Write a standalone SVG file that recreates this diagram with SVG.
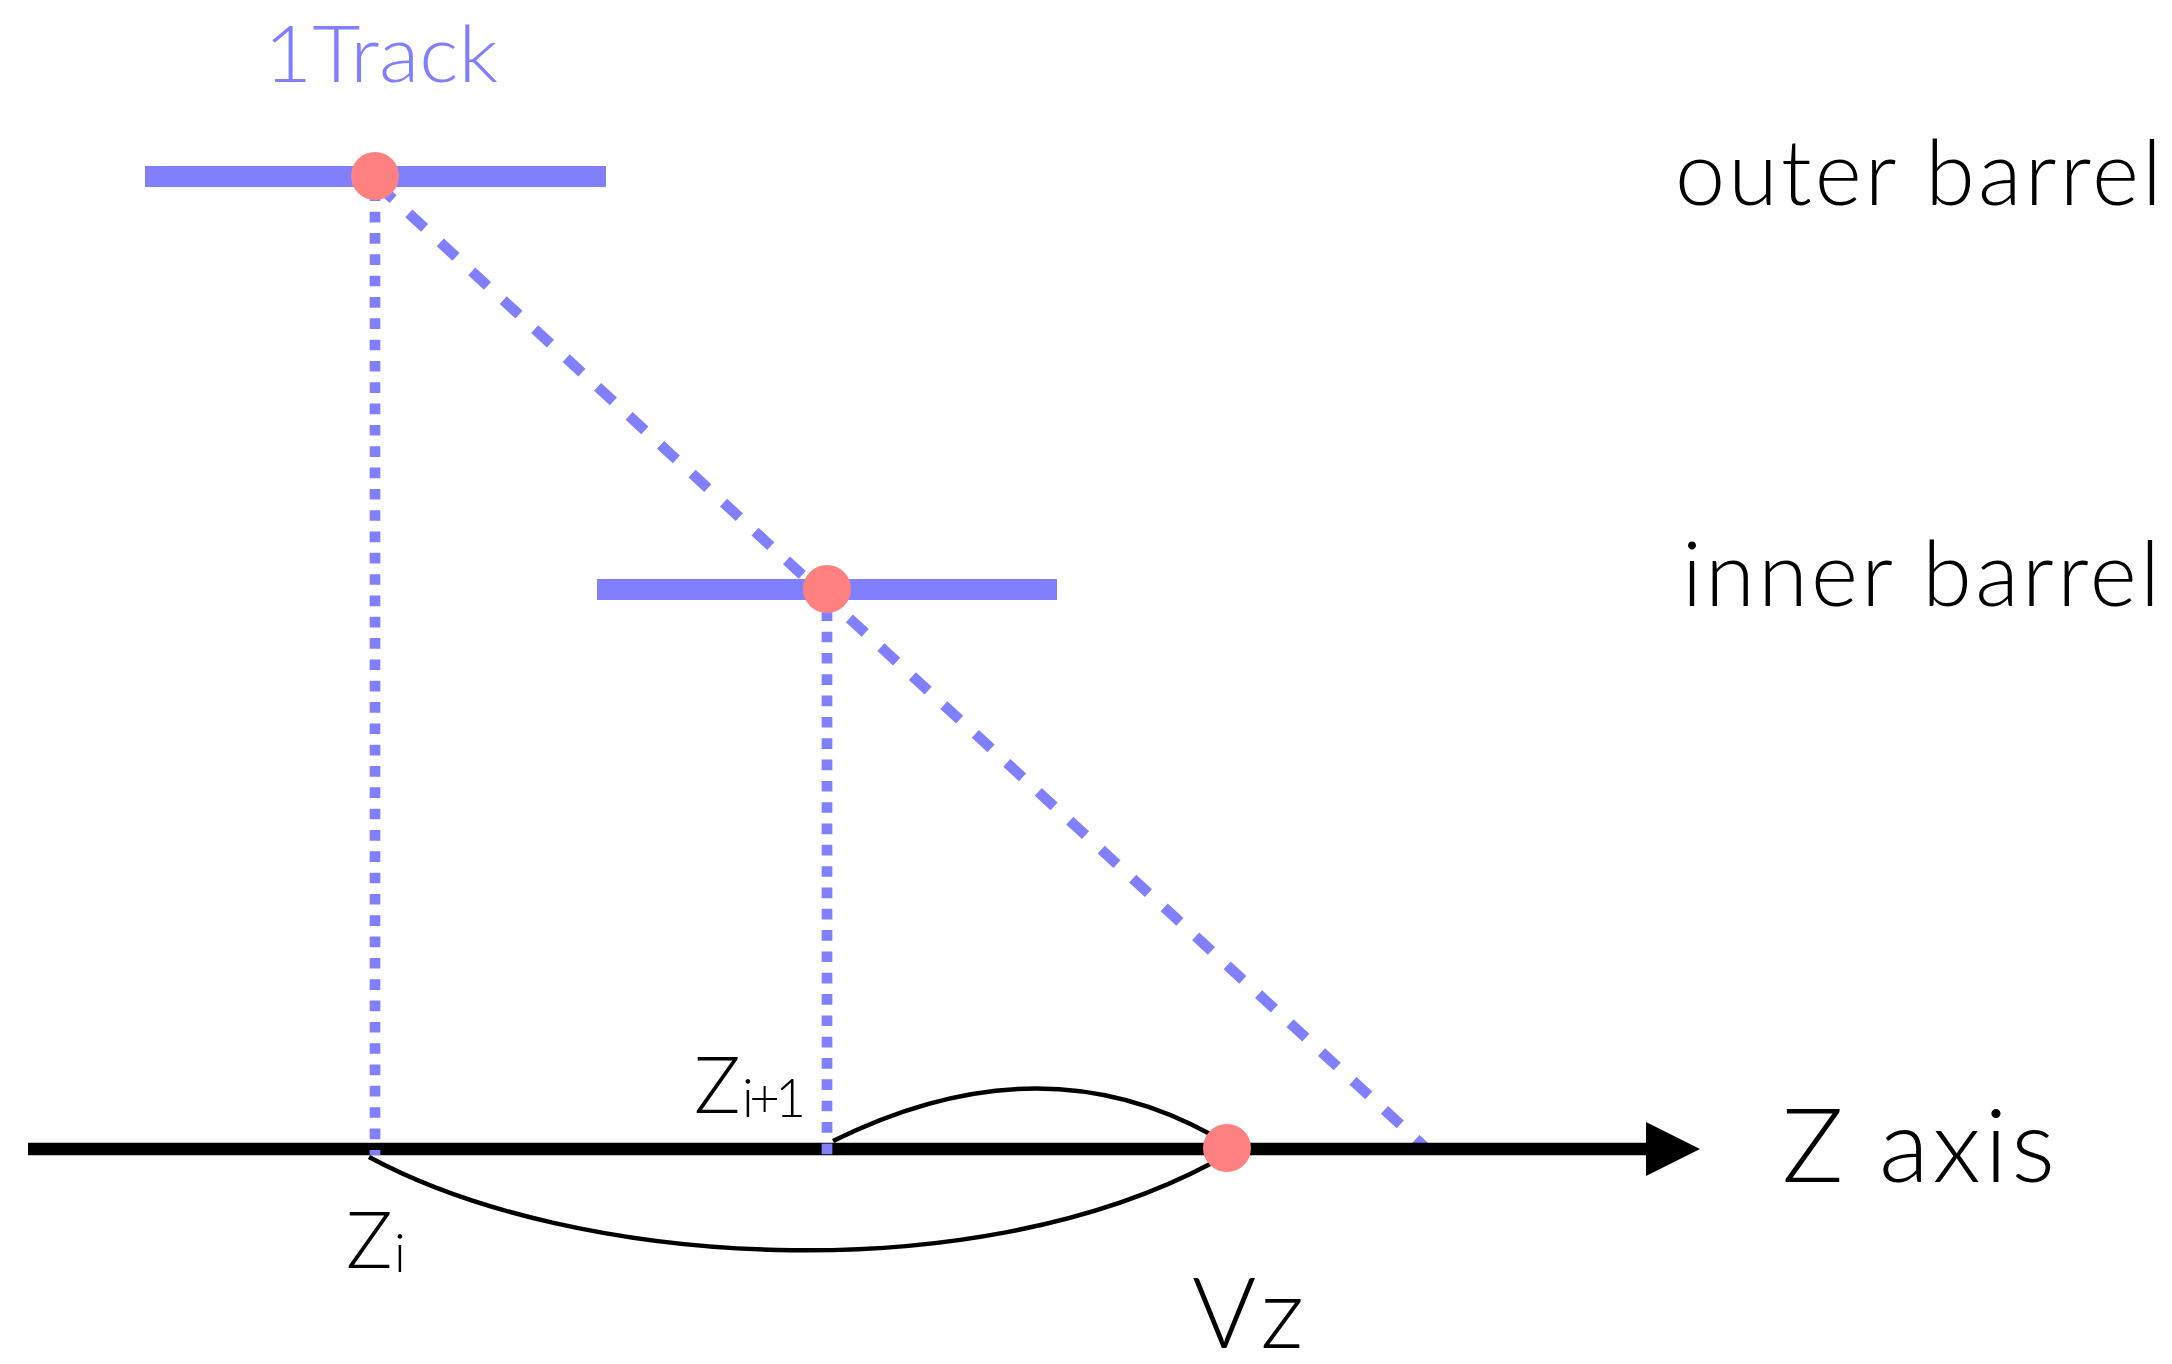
<svg xmlns="http://www.w3.org/2000/svg" width="2172" height="1364" viewBox="0 0 2172 1364">
<defs>
<style>
.lbl{font-family:Lato,"Noto Sans","Liberation Sans",sans-serif;font-weight:300;fill:#000}
.blue{fill:#8080ff}
.bar{fill:#8080ff}
.dot{fill:#ff8080}
.dotted{stroke:#8080ff;stroke-width:10.7;stroke-dasharray:10.66 10.66;fill:none}
.dashed{stroke:#8080ff;stroke-width:10.5;stroke-dasharray:21.4 21.34;fill:none}
.arc{stroke:#000;stroke-width:4.5;fill:none}
</style>
<marker id="ah" markerUnits="userSpaceOnUse" markerWidth="60" markerHeight="60" refX="0" refY="27" orient="auto" viewBox="0 0 60 60">
<path d="M0,0 L54,27 L0,54 Z" fill="#000"/>
</marker>
</defs>
<rect width="2172" height="1364" fill="#fff"/>

<g id="labels">
<text class="lbl blue" x="264" y="82" font-size="78" textLength="234" lengthAdjust="spacingAndGlyphs">1Track</text>
<text class="lbl" x="1675" y="205" font-size="90" textLength="487" lengthAdjust="spacing">outer barrel</text>
<text class="lbl" x="1682" y="606" font-size="90" textLength="478" lengthAdjust="spacing">inner barrel</text>
<text class="lbl" x="1782" y="1182" font-size="103" textLength="273" lengthAdjust="spacing">Z axis</text>
</g>

<g id="outer-barrel">
<rect class="bar" x="145" y="166" width="461" height="21"/>
</g>
<g id="inner-barrel">
<rect class="bar" x="597" y="579" width="460" height="21"/>
</g>

<g id="connectors">
<line class="dotted" x1="375" y1="190.4" x2="375" y2="1155"/>
<line class="dotted" x1="827" y1="589" x2="827" y2="1155"/>
<line class="dashed" x1="368" y1="176" x2="1426" y2="1148" stroke-dashoffset="30.08"/>
<line x1="28" y1="1149" x2="1646" y2="1149" stroke="#000" stroke-width="12.3" marker-end="url(#ah)"/>
<line class="dotted" x1="375" y1="1150" x2="375" y2="1155" stroke-dasharray="none"/>
<line class="dotted" x1="827" y1="1143.6" x2="827" y2="1154.5" stroke-dasharray="none"/>
<path class="arc" d="M833,1141 Q1038.5,1039 1212,1135"/>
<path class="arc" d="M369,1157 C575,1268 970,1292 1212,1163"/>
</g>

<g id="hit-outer">
<circle class="dot" cx="375" cy="176" r="24"/>
</g>
<g id="hit-inner">
<circle class="dot" cx="827" cy="589" r="24"/>
</g>
<g id="vertex">
<circle class="dot" cx="1227" cy="1148" r="24"/>
</g>

<g id="z-labels">
<text class="lbl" x="346" y="1268" font-size="78">Z</text>
<text class="lbl" x="394" y="1272" font-size="53">i</text>
<text class="lbl" x="694" y="1113" font-size="78">Z</text>
<text class="lbl" x="742" y="1117" font-size="53" textLength="64" lengthAdjust="spacing">i+1</text>
<text class="lbl" x="1192" y="1348" font-size="98" textLength="112" lengthAdjust="spacing">Vz</text>
</g>
</svg>
